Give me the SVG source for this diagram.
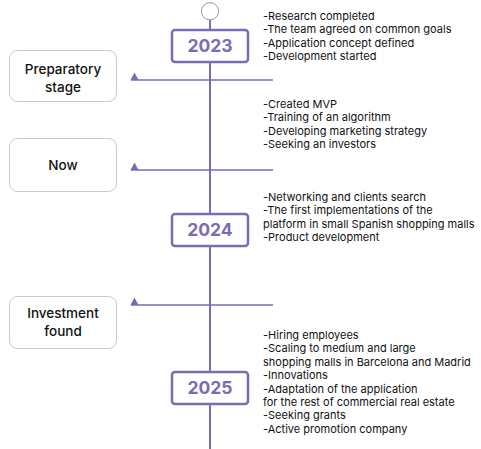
<svg xmlns="http://www.w3.org/2000/svg" width="481" height="449" viewBox="0 0 481 449">
<defs>
<style>
.stage{fill:#fff;stroke:#c9c9c9;stroke-width:1}
.stl{font-family:Inter,"Liberation Sans",sans-serif;font-size:13.5px;fill:#111;text-anchor:middle;font-weight:500}
.yr{fill:#fff;stroke:#7a6bb4;stroke-width:2.5}
.yrt{font-family:Inter,"Liberation Sans",sans-serif;font-size:17.5px;font-weight:700;fill:#7a6bb4;text-anchor:middle}
.ln{stroke:#7a6bb4;stroke-width:2;fill:none}
.hl{stroke:#7a6bb4;stroke-width:1.5;fill:none}
.tri{fill:#7a6bb4}
.body{font-family:Inter,"Liberation Sans",sans-serif;font-size:11px;fill:#111}
</style>
</defs>
<rect width="481" height="449" fill="#fff"/>
<g id="connectors">
<line class="ln" x1="210" y1="20" x2="210" y2="449"/>
<line class="hl" x1="131" y1="80" x2="273" y2="80"/>
<line class="hl" x1="131" y1="170" x2="273" y2="170"/>
<line class="hl" x1="131" y1="305" x2="273" y2="305"/>
<polygon class="tri" points="130.5,80 134.5,72.5 138.5,80"/>
<polygon class="tri" points="130.5,170 134.5,162.5 138.5,170"/>
<polygon class="tri" points="130.5,305 134.5,297.5 138.5,305"/>
</g>
<g id="start"><circle cx="210" cy="11.3" r="8.6" fill="#fff" stroke="#999" stroke-width="1"/></g>
<g id="y2023"><rect class="yr" x="172" y="30" width="76" height="32" rx="3"/><text class="yrt" x="210" y="52">2023</text></g>
<g id="y2024"><rect class="yr" x="172" y="214" width="76" height="32" rx="3"/><text class="yrt" x="210" y="236">2024</text></g>
<g id="y2025"><rect class="yr" x="172" y="372" width="76" height="32" rx="3"/><text class="yrt" x="210" y="394">2025</text></g>
<g id="preparatory"><rect class="stage" x="9.5" y="50.5" width="107" height="51" rx="8"/><text class="stl" x="63" y="74">Preparatory</text><text class="stl" x="63" y="92">stage</text></g>
<g id="now"><rect class="stage" x="9.5" y="138.5" width="107" height="53" rx="8"/><text class="stl" x="63" y="170">Now</text></g>
<g id="investment"><rect class="stage" x="9.5" y="296.5" width="107" height="52" rx="8"/><text class="stl" x="63" y="318">Investment</text><text class="stl" x="63" y="336">found</text></g>
<g id="t2023" class="body">
<text x="263" y="19.5">-Research completed</text>
<text x="263" y="33">-The team agreed on common goals</text>
<text x="263" y="46.5">-Application concept defined</text>
<text x="263" y="60">-Development started</text>
</g>
<g id="tnow" class="body">
<text x="263" y="108">-Created MVP</text>
<text x="263" y="121.3">-Training of an algorithm</text>
<text x="263" y="134.6">-Developing marketing strategy</text>
<text x="263" y="148">-Seeking an investors</text>
</g>
<g id="t2024" class="body">
<text x="263" y="201">-Networking and clients search</text>
<text x="263" y="214.3">-The first implementations of the</text>
<text x="263" y="227.6">platform in small Spanish shopping malls</text>
<text x="263" y="241">-Product development</text>
</g>
<g id="t2025" class="body">
<text x="263" y="339">-Hiring employees</text>
<text x="263" y="352.4">-Scaling to medium and large</text>
<text x="263" y="365.8">shopping malls in Barcelona and Madrid</text>
<text x="263" y="379.2">-Innovations</text>
<text x="263" y="392.6">-Adaptation of the application</text>
<text x="263" y="406">for the rest of commercial real estate</text>
<text x="263" y="419.4">-Seeking grants</text>
<text x="263" y="432.8">-Active promotion company</text>
</g>
</svg>
